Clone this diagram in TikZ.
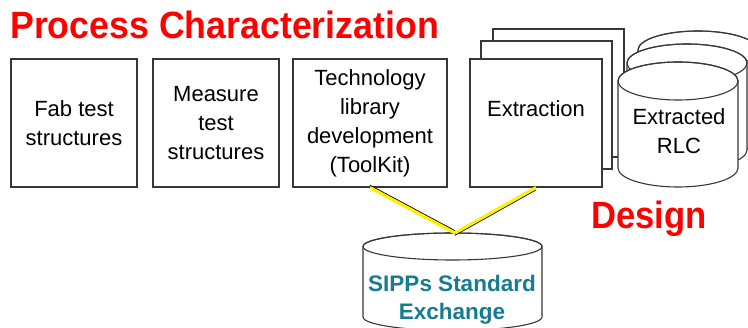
\documentclass[tikz,border=0pt]{standalone}
\usepackage{fontspec}
\setmainfont{Liberation Sans}
\definecolor{headred}{RGB}{255,0,0}
\definecolor{sippsteal}{RGB}{22,124,146}
\definecolor{edgegray}{RGB}{55,55,55}
\definecolor{linkyellow}{RGB}{255,240,0}

% drum (database cylinder): centre x, top-ellipse y, bottom-ellipse y, x radius, y radius
\newcommand\drawdrum[5]{%
  \draw[drumline] (#1-#4,#2) -- (#1-#4,#3)
    arc[start angle=180,end angle=360,x radius=#4pt,y radius=#5pt]
    -- (#1+#4,#2)
    arc[start angle=0,end angle=180,x radius=#4pt,y radius=#5pt] -- cycle;
  \draw[drumline,fill=none] (#1,#2) ellipse[x radius=#4pt,y radius=#5pt];
}

\begin{document}
\begin{tikzpicture}[x=1pt,y=-1pt,
  bodytext/.style={inner sep=0pt,align=center,font=\fontsize{22}{29}\selectfont},
  stepbox/.style={bodytext,draw=edgegray,line width=1.1pt,fill=white,
    minimum height=128pt},
  drumline/.style={draw=edgegray,line width=1.1pt,fill=white},
  headline/.style={inner sep=0pt,text=headred,font=\fontsize{38}{38}\selectfont\bfseries},
  shadowline/.style={draw=black,line width=1pt},
  linkline/.style={draw=linkyellow,line width=3.2pt}]
\useasboundingbox (0,0) rectangle (748,328);

% headings
\node[headline,anchor=base west] (title) at (10,39)
  {\scalebox{0.94}[1]{Process Characterization}};
\node[headline,anchor=base west] (design) at (591,229)
  {\scalebox{0.91}[1]{Design}};

% process steps
\node[stepbox,minimum width=126pt] (fab) at (74,123) {Fab test\\structures};
\node[stepbox,minimum width=126pt] (measure) at (216,123) {Measure\\test\\structures};
\node[stepbox,minimum width=154pt] (tech) at (370,123)
  {Technology\\library\\development\\(ToolKit)};

% stacked extraction sheets
\node[stepbox,minimum width=131pt] (sheet3) at (558.5,93) {};
\node[stepbox,minimum width=131pt] (sheet2) at (546.5,105) {};
\node[stepbox,minimum width=132pt] (extract) at (536,123) {};
\node[bodytext,anchor=base] (extractlabel) at (536,117) {Extraction};

% stacked RLC drums
\drawdrum{698}{50}{138}{60}{19}
\drawdrum{687}{63}{150}{60}{19}
\drawdrum{678}{81}{168}{60}{19}
\node[bodytext] (rlc) at (679,131) {Extracted\\RLC};

% exchange drum
\drawdrum{452.5}{246.5}{317}{89.5}{13.5}
\node[bodytext,text=sippsteal,font=\fontsize{22.5}{28}\selectfont\bfseries]
  (sipps) at (452,300) {SIPPs Standard\\Exchange};

% links into the exchange
\coordinate (hub) at (455,233);
\draw[shadowline,transform canvas={yshift=2.2pt}] (tech.south) -- (hub);
\draw[linkline] (tech.south) -- (hub);
\draw[shadowline,transform canvas={yshift=-2.2pt}] (extract.south) -- (hub);
\draw[linkline] (extract.south) -- (hub);
\end{tikzpicture}
\end{document}
